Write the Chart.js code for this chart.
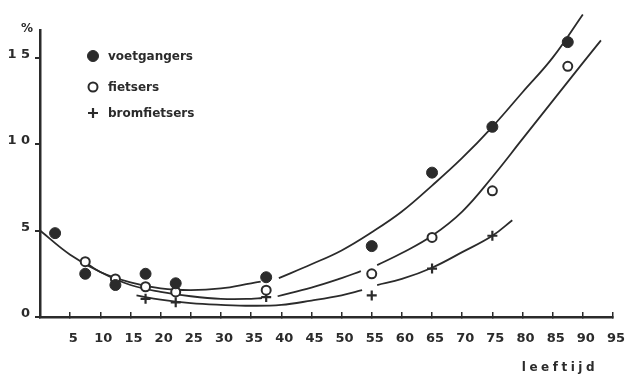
<!DOCTYPE html>
<html lang="nl">
<head>
<meta charset="utf-8">
<title>Ongevallen naar leeftijd</title>
<script src="https://cdn.jsdelivr.net/npm/chart.js@4.4.1/dist/chart.umd.min.js"></script>
<style>
  html, body { margin: 0; padding: 0; background: #fff; }
  #wrap { width: 627px; height: 379px; position: relative; }
</style>
</head>
<body>
<div id="wrap"><canvas id="leeftijdChart"></canvas></div>
<script>
// gemeten waarden per leeftijdsklasse (%)
const leeftijden = [2.5, 7.5, 12.5, 17.5, 22.5, 37.5, 55, 65, 75, 87.5];
const voetgangers = [4.85, 2.5, 1.85, 2.5, 1.95, 2.3, 4.1, 8.35, 11.0, 15.9];
const fietsers = [null, 3.2, 2.2, 1.75, 1.45, 1.55, 2.5, 4.6, 7.3, 14.5];
const bromfietsers = [null, null, null, 1.05, 0.85, 1.15, 1.25, 2.8, 4.7, null];

// getekende trendlijnen (null = onderbreking in de lijn)
const voetLijnX = [0, 5, 10, 15, 20, 25, 30, 35, 36.6, 38, 39.6, 45, 50, 55, 60, 65, 70, 75, 80, 85, 90];
const voetLijnY = [5.0, 3.6, 2.6, 2.0, 1.65, 1.55, 1.65, 1.95, 2.05, null, 2.25, 3.05, 3.85, 4.9, 6.1, 7.6, 9.2, 11.0, 13.0, 15.0, 17.5];
const fietsLijnX = [7, 10, 15, 20, 25, 30, 35, 36.8, 38, 39.4, 45, 50, 53.2, 54.5, 55.9, 60, 65, 70, 75, 80, 85, 90, 93];
const fietsLijnY = [3.3, 2.6, 1.85, 1.45, 1.2, 1.05, 1.05, 1.1, null, 1.2, 1.7, 2.25, 2.65, null, 3.0, 3.7, 4.7, 6.1, 8.1, 10.3, 12.5, 14.7, 16.0];
const bromLijnX = [16, 20, 25, 30, 35, 40, 45, 50, 53.4, 54.5, 55.9, 60, 65, 70, 75, 78.3];
const bromLijnY = [1.25, 1.0, 0.8, 0.7, 0.65, 0.7, 0.95, 1.25, 1.55, null, 1.85, 2.2, 2.85, 3.75, 4.7, 5.6];

const inkt = "#2b2b2b";
const letter = "DejaVu Sans";

function punten(xs, ys) {
    return xs.map((x, i) => ({ x: x, y: ys[i] }));
}

document.addEventListener("DOMContentLoaded", function () {
    const teksten = {
        id: "teksten",
        afterDraw(chart) {
            const ctx = chart.ctx;
            const area = chart.chartArea;
            ctx.save();
            ctx.fillStyle = inkt;
            ctx.font = "bold 12px " + letter;
            ctx.textBaseline = "middle";

            ctx.textAlign = "center";
            ctx.fillText("%", 27, 29);

            ctx.textAlign = "right";
            ctx.letterSpacing = "3.5px";
            ctx.fillText("leeftijd", 598, 368);
            ctx.letterSpacing = "0px";

            // legenda linksboven in het grafiekvlak
            const rijen = [56, 87, 113];
            chart.data.datasets.slice(0, 3).forEach((ds, i) => {
                const x = area.left + 53;
                const y = rijen[i];
                ctx.fillStyle = ds.backgroundColor;
                ctx.strokeStyle = ds.borderColor;
                ctx.lineWidth = ds.borderWidth;
                Chart.helpers.drawPoint(ctx, {
                    pointStyle: ds.pointStyle,
                    radius: ds.pointRadius,
                    borderWidth: ds.borderWidth,
                    rotation: 0
                }, x, y);
                ctx.fillStyle = inkt;
                ctx.textAlign = "left";
                ctx.fillText(ds.label, x + 15, y + 1);
            });
            ctx.restore();
        }
    };

    const lijn = (label, xs, ys) => ({
        label: label,
        data: punten(xs, ys),
        showLine: true,
        pointRadius: 0,
        borderColor: inkt,
        borderWidth: 1.8,
        tension: 0.4,
        spanGaps: false,
        clip: false,
        order: 2
    });

    new Chart(document.getElementById("leeftijdChart"), {
        type: "scatter",
        data: {
            datasets: [
                {
                    label: "voetgangers",
                    data: punten(leeftijden, voetgangers),
                    pointStyle: "circle",
                    pointRadius: 5.5,
                    backgroundColor: inkt,
                    borderColor: inkt,
                    borderWidth: 1,
                    clip: false,
                    order: 0
                },
                {
                    label: "fietsers",
                    data: punten(leeftijden, fietsers),
                    pointStyle: "circle",
                    pointRadius: 4.5,
                    backgroundColor: "#ffffff",
                    borderColor: inkt,
                    borderWidth: 2,
                    clip: false,
                    order: 0
                },
                {
                    label: "bromfietsers",
                    data: punten(leeftijden, bromfietsers),
                    pointStyle: "cross",
                    pointRadius: 5,
                    backgroundColor: inkt,
                    borderColor: inkt,
                    borderWidth: 2.2,
                    clip: false,
                    order: 0
                },
                lijn("voetgangers lijn", voetLijnX, voetLijnY),
                lijn("fietsers lijn", fietsLijnX, fietsLijnY),
                lijn("bromfietsers lijn", bromLijnX, bromLijnY)
            ]
        },
        options: {
            responsive: true,
            maintainAspectRatio: false,
            devicePixelRatio: 1,
            animation: false,
            layout: { padding: { top: 30, right: 14, left: 0, bottom: 0 } },
            plugins: {
                legend: { display: false },
                tooltip: { enabled: false }
            },
            scales: {
                x: {
                    type: "linear",
                    min: 0,
                    max: 95,
                    afterFit(scale) {
                        scale.height = 62;
                        scale.paddingLeft = 0;
                        scale.paddingRight = 0;
                    },
                    ticks: {
                        stepSize: 5,
                        autoSkip: false,
                        maxRotation: 0,
                        padding: 19,
                        labelOffset: 3,
                        color: inkt,
                        font: { family: letter, weight: "bold", size: 13 },
                        callback: v => v === 0 ? "" : v
                    },
                    grid: { drawOnChartArea: false, tickLength: -5, color: inkt, lineWidth: 1.5 },
                    border: { display: true, color: inkt, width: 2.5 }
                },
                y: {
                    min: 0,
                    max: 16.6,
                    afterFit(scale) { scale.width = 40; },
                    ticks: {
                        stepSize: 5,
                        includeBounds: false,
                        padding: 5,
                        labelOffset: -3,
                        color: inkt,
                        font: { family: letter, weight: "bold", size: 13 },
                        callback: v => String(v).split("").join(" ")
                    },
                    grid: { drawOnChartArea: false, tickLength: 5, color: inkt, lineWidth: 2 },
                    border: { display: true, color: inkt, width: 2.5 }
                }
            }
        },
        plugins: [teksten]
    });
});
</script>
</body>
</html>
